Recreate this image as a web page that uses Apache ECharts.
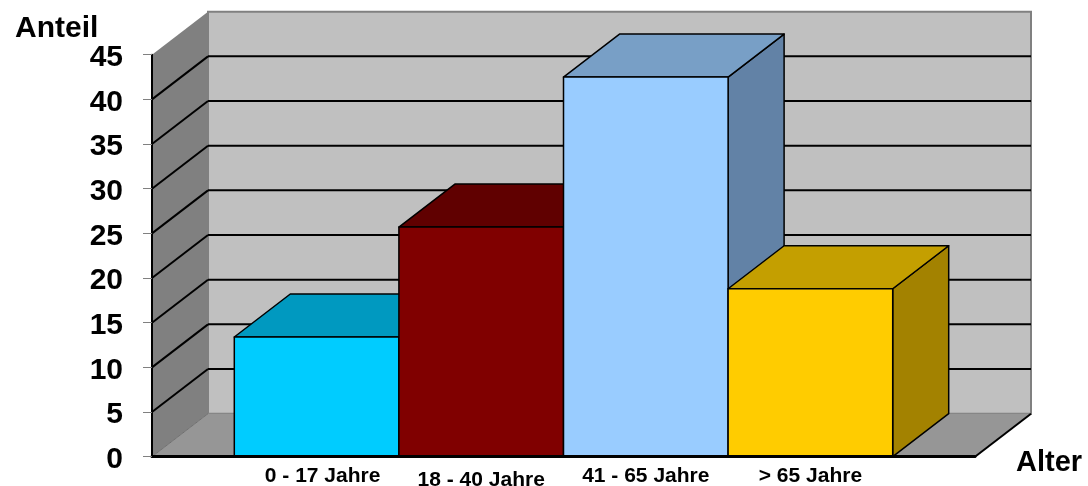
<!DOCTYPE html>
<html>
<head>
<meta charset="utf-8">
<script src="https://cdn.jsdelivr.net/npm/echarts@6/dist/echarts.min.js"></script>
<style>
  html, body { margin: 0; padding: 0; background: #fff; }
  #chart { width: 1088px; height: 486px; }
</style>
</head>
<body>
<div id="chart"></div>
<script>
  // Altersgruppen und Anteile
  var categories = ['0 - 17 Jahre', '18 - 40 Jahre', '41 - 65 Jahre', '> 65 Jahre'];
  var shares = [13.4, 25.7, 42.5, 18.8];
  var yTicks = [0, 5, 10, 15, 20, 25, 30, 35, 40, 45];

  var DX = 56, DY = -43;   // Tiefe der 3D-Darstellung in px
  var FONT = 'Arial, "Liberation Sans", sans-serif';
  var barColors = [
    { front: '#00ccff', top: '#0099c0', side: '#0080a0' },
    { front: '#800000', top: '#600000', side: '#500000' },
    { front: '#99ccff', top: '#789fc6', side: '#6282a6' },
    { front: '#ffcc00', top: '#c49f00', side: '#a38200' }
  ];
  // kleine Verschiebung einzelner Achsenbeschriftungen wie im Original
  var labelStyle = ['f', 'lo', 'n', 'n'];

  var yMax = yTicks[yTicks.length - 1];
  var xMax = categories.length + 1;

  var chart = echarts.init(document.getElementById('chart'));

  function renderWalls(params, api) {
    var o = api.coord([0, 0]);
    var t = api.coord([0, yMax]);
    var r = api.coord([xMax, 0]);
    var children = [
      // Rueckwand
      { type: 'rect', shape: { x: o[0] + DX, y: t[1] + DY, width: r[0] - o[0], height: o[1] - t[1] },
        style: { fill: '#c0c0c0', stroke: '#808080', lineWidth: 2 } },
      // Seitenwand
      { type: 'polygon', shape: { points: [[o[0], t[1]], [o[0] + DX, t[1] + DY], [o[0] + DX, o[1] + DY], [o[0], o[1]]] },
        style: { fill: '#808080' } },
      // Boden
      { type: 'polygon', shape: { points: [[o[0], o[1]], [r[0], r[1]], [r[0] + DX, r[1] + DY], [o[0] + DX, o[1] + DY]] },
        style: { fill: '#969696' } },
      { type: 'line', shape: { x1: r[0], y1: r[1], x2: r[0] + DX, y2: r[1] + DY },
        style: { stroke: '#000', lineWidth: 2 } },
      { type: 'line', shape: { x1: o[0], y1: o[1], x2: o[0] + DX, y2: o[1] + DY },
        style: { stroke: '#707070', lineWidth: 1 } }
    ];
    yTicks.forEach(function (v) {
      if (v === 0 || v === yMax) return;
      var p = api.coord([0, v]);
      children.push({ type: 'line', shape: { x1: p[0], y1: p[1], x2: p[0] + DX, y2: p[1] + DY },
        style: { stroke: '#000', lineWidth: 2 } });
      children.push({ type: 'line', shape: { x1: p[0] + DX, y1: p[1] + DY, x2: r[0] + DX, y2: p[1] + DY },
        style: { stroke: '#000', lineWidth: 2 } });
    });
    return { type: 'group', children: children };
  }

  function renderBar(params, api) {
    var x = api.value(0), v = api.value(1);
    var p0 = api.coord([x - 0.5, v]);
    var p1 = api.coord([x + 0.5, 0]);
    var c = barColors[params.dataIndex];
    var z = params.dataIndex * 3;
    function st(fill) { return { fill: fill, stroke: '#000', lineWidth: 1.5, lineJoin: 'round' }; }
    return {
      type: 'group',
      children: [
        { type: 'polygon', z2: z,
          shape: { points: [[p1[0], p0[1]], [p1[0] + DX, p0[1] + DY], [p1[0] + DX, p1[1] + DY], [p1[0], p1[1]]] },
          style: st(c.side) },
        { type: 'polygon', z2: z + 1,
          shape: { points: [[p0[0], p0[1]], [p0[0] + DX, p0[1] + DY], [p1[0] + DX, p0[1] + DY], [p1[0], p0[1]]] },
          style: st(c.top) },
        { type: 'rect', z2: z + 2,
          shape: { x: p0[0], y: p0[1], width: p1[0] - p0[0], height: p1[1] - p0[1] },
          style: st(c.front) }
      ]
    };
  }

  var labelFont = { fontFamily: FONT, fontSize: 21, fontWeight: 'bold', color: '#000' };
  var bigFont = { fontFamily: FONT, fontSize: 30, fontWeight: 'bold', color: '#000' };

  chart.setOption({
    animation: false,
    title: {
      text: 'Anteil',
      left: 10,
      top: 9,
      textStyle: bigFont
    },
    grid: { left: 152, right: 113, top: 54.7, bottom: 29.3, containLabel: false, outerBoundsMode: 'none' },
    xAxis: {
      type: 'value',
      min: 0,
      max: xMax,
      interval: 1,
      z: 5,
      name: '{a|Alter}',
      nameLocation: 'end',
      nameGap: 41,
      nameTextStyle: {
        rich: { a: Object.assign({ padding: [12, 0, 0, 0] }, bigFont, { fontSize: 29 }) }
      },
      axisLine: { lineStyle: { color: '#000', width: 3 } },
      axisTick: { show: false },
      splitLine: { show: false },
      axisLabel: {
        margin: 9,
        formatter: function (v) {
          var s = categories[v - 1];
          if (!s) return '';
          return '{' + labelStyle[v - 1] + '|' + s + '}';
        },
        rich: {
          n: labelFont,
          f: Object.assign({ padding: [0, 0, 0, 12] }, labelFont),
          lo: Object.assign({ padding: [4, 0, 0, 0] }, labelFont)
        }
      }
    },
    yAxis: {
      type: 'value',
      min: 0,
      max: yMax,
      interval: 5,
      z: 5,
      axisLine: { show: true, lineStyle: { color: '#000', width: 2 } },
      axisTick: { show: true, length: 9, lineStyle: { color: '#808080', width: 1 } },
      splitLine: { show: false },
      axisLabel: {
        margin: 29,
        formatter: function (v) { return '{a|' + v + '}'; },
        rich: { a: Object.assign({ padding: [6, 0, 0, 0] }, bigFont) }
      }
    },
    series: [
      {
        type: 'custom',
        name: 'Waende',
        silent: true,
        z: 1,
        data: [[0, 0]],
        renderItem: renderWalls
      },
      {
        type: 'custom',
        name: 'Anteil',
        z: 2,
        data: shares.map(function (v, i) { return [i + 1, v]; }),
        renderItem: renderBar
      }
    ]
  });
</script>
</body>
</html>
